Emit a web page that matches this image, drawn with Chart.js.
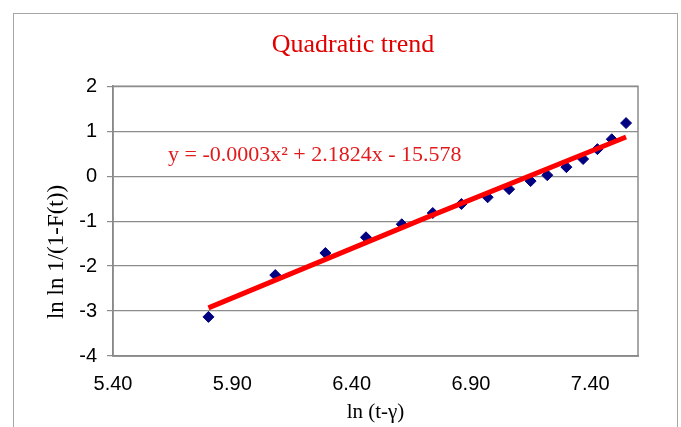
<!DOCTYPE html>
<html>
<head>
<meta charset="utf-8">
<script src="https://cdn.jsdelivr.net/npm/chart.js@4"></script>
<style>
  html, body { margin: 0; padding: 0; background: #fff; }
  #wrap { width: 681px; height: 427px; }
</style>
</head>
<body>
<div id="wrap"><canvas id="grafico" width="681" height="427"></canvas></div>
<script>
// Datos
const lnT = [5.80, 6.08, 6.29, 6.46, 6.61, 6.74, 6.86, 6.97, 7.06, 7.15, 7.22, 7.30, 7.37, 7.43, 7.49, 7.55];
const lnLnF = [-3.13, -2.20, -1.71, -1.36, -1.07, -0.82, -0.62, -0.47, -0.29, -0.11, 0.02, 0.20, 0.38, 0.60, 0.82, 1.18];
const trendX = [5.80, 6.70, 7.55];
const trendY = [-2.93, -0.95, 0.87];
const xTicks = [5.40, 5.90, 6.40, 6.90, 7.40];
const yTicks = [-4, -3, -2, -1, 0, 1, 2];
const equation = 'y = -0.0003x\u00b2 + 2.1824x - 15.578';
const yTitle = 'ln ln 1/(1-F(t))';

const serif = '"Liberation Serif", "DejaVu Serif", serif';
const sans = '"Liberation Sans", Arial, sans-serif';

// Marco exterior, borde del área, ecuación y título del eje Y
const extras = {
  id: 'extras',
  beforeDraw(chart) {
    const c = chart.ctx;
    c.save();
    c.strokeStyle = '#a6a6a6';
    c.lineWidth = 1;
    c.strokeRect(13.5, 13.5, 664, 500);
    c.restore();
  },
  afterDatasetsDraw(chart) {
    const c = chart.ctx;
    const a = chart.chartArea;
    c.save();
    c.strokeStyle = '#8c8c8c';
    c.lineWidth = 1.5;
    c.strokeRect(a.left, a.top, a.right - a.left, a.bottom - a.top);
    c.fillStyle = '#e31a1c';
    c.font = '22px ' + serif;
    c.textBaseline = 'alphabetic';
    c.fillText(equation, 168, 161);
    // título eje Y (desplazado hacia abajo como en el original)
    c.fillStyle = '#000';
    c.font = '23px ' + serif;
    c.translate(57, 252);
    c.rotate(-Math.PI / 2);
    c.textAlign = 'center';
    c.textBaseline = 'middle';
    c.fillText(yTitle, 0, 0);
    c.restore();
  }
};

new Chart(document.getElementById('grafico'), {
  type: 'scatter',
  data: {
    datasets: [
      {
        label: 'Datos',
        data: lnT.map((x, i) => ({ x: x, y: lnLnF[i] })),
        pointStyle: 'rectRot',
        pointRadius: 5.5,
        backgroundColor: '#000080',
        borderColor: '#000080',
        order: 2
      },
      {
        label: 'Tendencia',
        type: 'line',
        data: trendX.map((x, i) => ({ x: x, y: trendY[i] })),
        borderColor: '#ff0000',
        borderWidth: 5,
        pointRadius: 0,
        fill: false,
        tension: 0,
        order: 1
      }
    ]
  },
  options: {
    responsive: false,
    animation: false,
    layout: { padding: { left: 68, right: 43, top: 30, bottom: 0 } },
    plugins: {
      legend: { display: false },
      tooltip: { enabled: false },
      title: {
        display: true,
        text: 'Quadratic trend',
        color: '#e00000',
        font: { family: serif, size: 26, weight: 'normal' },
        padding: { top: 0, bottom: 25 }
      }
    },
    scales: {
      x: {
        type: 'linear',
        min: 5.40,
        max: 7.60,
        afterBuildTicks: s => { s.ticks = xTicks.map(v => ({ value: v })); },
        afterFit: s => { s.height = 71; },
        grid: { display: false, drawTicks: false },
        border: { display: true, color: '#808080', width: 1.5 },
        ticks: {
          color: '#000',
          font: { family: sans, size: 20 },
          padding: 16,
          maxRotation: 0,
          callback: v => Number(v).toFixed(2)
        },
        title: {
          display: true,
          text: 'ln (t-\u03b3)',
          color: '#000',
          font: { family: serif, size: 21 },
          padding: { top: 2, bottom: 2 }
        }
      },
      y: {
        min: -4,
        max: 2,
        afterBuildTicks: s => { s.ticks = yTicks.map(v => ({ value: v })); },
        afterFit: s => { s.width = 45; },
        grid: { color: '#8c8c8c', lineWidth: 1.2, tickLength: 6, drawTicks: true },
        border: { display: true, color: '#808080', width: 1.5 },
        ticks: {
          color: '#000',
          font: { family: sans, size: 20 },
          padding: 10
        }
      }
    }
  },
  plugins: [extras]
});
</script>
</body>
</html>
